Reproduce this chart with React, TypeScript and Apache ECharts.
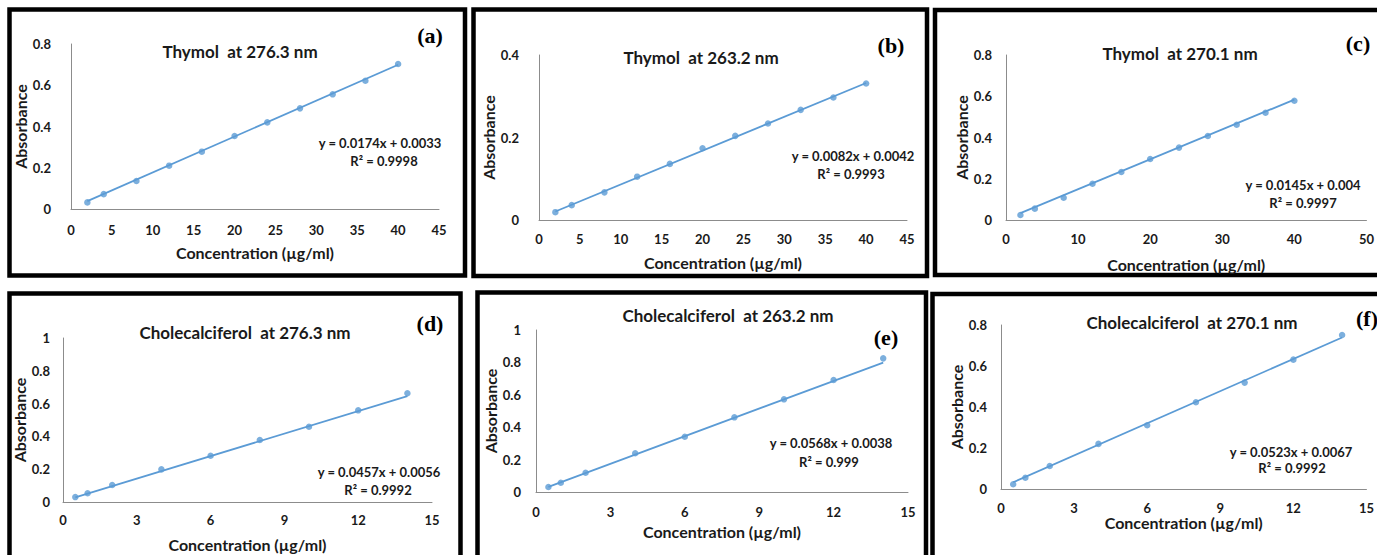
import React, { useEffect, useRef } from "react";
import * as echarts from "echarts";

// ---- data ----
const thymolConc = [2, 4, 8, 12, 16, 20, 24, 28, 32, 36, 40];
const cholConc = [0.5, 1, 2, 4, 6, 8, 10, 12, 14];

const absA = [0.032, 0.072, 0.136, 0.21, 0.278, 0.354, 0.42, 0.488, 0.556, 0.622, 0.703];
const absB = [0.019, 0.036, 0.067, 0.105, 0.136, 0.174, 0.204, 0.234, 0.267, 0.297, 0.331];
const absC = [0.024, 0.055, 0.108, 0.176, 0.233, 0.296, 0.351, 0.407, 0.462, 0.52, 0.578];
const absD = [0.03, 0.053, 0.104, 0.199, 0.282, 0.378, 0.459, 0.559, 0.663];
const absE = [0.031, 0.057, 0.119, 0.239, 0.341, 0.461, 0.572, 0.691, 0.825];
const absF = [0.023, 0.055, 0.112, 0.22, 0.311, 0.423, 0.519, 0.631, 0.751];

const slopes = [0.0174, 0.0082, 0.0145, 0.0457, 0.0568, 0.0523];
const intercepts = [0.0033, 0.0042, 0.004, 0.0056, 0.0038, 0.0067];
const rSquared = ["0.9998", "0.9993", "0.9997", "0.9992", "0.999", "0.9992"];

const titles = [
  "Thymol  at 276.3 nm",
  "Thymol  at 263.2 nm",
  "Thymol  at 270.1 nm",
  "Cholecalciferol  at 276.3 nm",
  "Cholecalciferol  at 263.2 nm",
  "Cholecalciferol  at 270.1 nm",
];
const letters = ["(a)", "(b)", "(c)", "(d)", "(e)", "(f)"];
const xMaxes = [45, 45, 50, 15, 15, 15];
const xIntervals = [5, 5, 10, 3, 3, 3];
const yMaxes = [0.8, 0.4, 0.8, 1, 1, 0.8];
const yInterval = 0.2;
const xAxisTitle = "Concentration (µg/ml)";
const yAxisTitle = "Absorbance";

const concs = [thymolConc, thymolConc, thymolConc, cholConc, cholConc, cholConc];
const absorbances = [absA, absB, absC, absD, absE, absF];

// ---- layout (pixels) ----
const layout = [
  { grid: [71, 44, 368, 165], border: [9.5, 9.5, 455.5, 266], title: [240, 51], letter: [430, 35], eq: [380, 143], r2: [384, 161], xGap: 35, yGap: 34, xMargin: 14, yMargin: 20 },
  { grid: [539, 55, 368, 165], border: [473.5, 9.5, 453.5, 266.5], title: [701, 57], letter: [891, 45], eq: [853, 156], r2: [851, 174], xGap: 34, yGap: 34, xMargin: 12, yMargin: 20 },
  { grid: [1006, 55, 365, 165], border: [935, 10, 500, 265], title: [1180, 53], letter: [1358, 43], eq: [1303, 185], r2: [1303, 203], xGap: 36, yGap: 35, xMargin: 12, yMargin: 14 },
  { grid: [63, 338, 369, 164], border: [9.5, 293.5, 451, 300], title: [245, 332], letter: [430, 323], eq: [379, 472], r2: [378, 490], xGap: 34, yGap: 29, xMargin: 11, yMargin: 13 },
  { grid: [536, 330, 372, 162], border: [477.5, 292.5, 448.5, 300], title: [728, 315], letter: [886, 337], eq: [831, 443], r2: [829, 462], xGap: 31, yGap: 34, xMargin: 13, yMargin: 15 },
  { grid: [1001, 325, 370, 164], border: [932.5, 294, 500, 300], title: [1192, 322], letter: [1367, 318], eq: [1291, 452], r2: [1292, 468], xGap: 24, yGap: 35, xMargin: 12, yMargin: 14 },
];

const BLUE = "#5B9BD5";
const AXIS = "#8C8C8C";
const FONT = "Lato, 'Open Sans', sans-serif";
const INK = "#1a1a1a";

export default function App() {
  const ref = useRef<HTMLDivElement>(null);

  useEffect(() => {
    if (!ref.current) return;
    const chart = echarts.init(ref.current, undefined, { renderer: "svg" });

    const grids: any[] = [];
    const xAxes: any[] = [];
    const yAxes: any[] = [];
    const series: any[] = [];
    const graphics: any[] = [];

    layout.forEach((L, i) => {
      const [gl, gt, gw, gh] = L.grid;
      grids.push({ left: gl, top: gt, width: gw, height: gh, containLabel: false });
      xAxes.push({
        type: "value",
        gridIndex: i,
        min: 0,
        max: xMaxes[i],
        interval: xIntervals[i],
        splitLine: { show: false },
        axisTick: { show: false },
        axisLine: { show: true, onZero: false, lineStyle: { color: AXIS, width: 1 } },
        axisLabel: { color: INK, fontSize: 13, fontWeight: "bold", fontFamily: FONT, margin: L.xMargin },
        name: xAxisTitle,
        nameLocation: "middle",
        nameGap: L.xGap,
        nameTextStyle: { color: INK, fontSize: 16, fontWeight: "bold", fontFamily: FONT },
      });
      yAxes.push({
        type: "value",
        gridIndex: i,
        min: 0,
        max: yMaxes[i],
        interval: yInterval,
        splitLine: { show: false },
        axisTick: { show: false },
        axisLine: { show: true, onZero: false, lineStyle: { color: AXIS, width: 1 } },
        axisLabel: {
          color: INK,
          fontSize: 13,
          fontWeight: "bold",
          fontFamily: FONT,
          margin: L.yMargin,
          formatter: (v: number) => String(+v.toFixed(1)),
        },
        name: yAxisTitle,
        nameLocation: "middle",
        nameGap: L.yGap,
        nameTextStyle: { color: INK, fontSize: 16, fontWeight: "bold", fontFamily: FONT },
      });

      const xs = concs[i];
      const ys = absorbances[i];
      const x0 = xs[0];
      const x1 = xs[xs.length - 1];
      series.push({
        type: "line",
        xAxisIndex: i,
        yAxisIndex: i,
        data: [
          [x0, slopes[i] * x0 + intercepts[i]],
          [x1, slopes[i] * x1 + intercepts[i]],
        ],
        showSymbol: false,
        symbol: "none",
        lineStyle: { color: BLUE, width: 1.8 },
        silent: true,
        z: 2,
      });
      series.push({
        type: "scatter",
        xAxisIndex: i,
        yAxisIndex: i,
        data: xs.map((x, k) => [x, ys[k]]),
        symbol: "circle",
        symbolSize: 6.5,
        itemStyle: { color: BLUE },
        z: 3,
      });

      const [bx, by, bw, bh] = L.border;
      graphics.push({
        type: "rect",
        shape: { x: bx, y: by, width: bw, height: bh },
        style: { fill: "none", stroke: "#000", lineWidth: 4.5 },
        silent: true,
      });
      graphics.push({
        type: "text",
        x: L.title[0],
        y: L.title[1],
        style: {
          text: titles[i],
          fill: INK,
          font: `bold 17px ${FONT}`,
          textAlign: "center",
          textVerticalAlign: "middle",
        },
      });
      graphics.push({
        type: "text",
        x: L.letter[0],
        y: L.letter[1],
        style: {
          text: letters[i],
          fill: "#000",
          font: "bold 22px 'Liberation Serif', 'Times New Roman', serif",
          textAlign: "center",
          textVerticalAlign: "middle",
        },
      });
      graphics.push({
        type: "text",
        x: L.eq[0],
        y: L.eq[1],
        style: {
          text: `y = ${slopes[i]}x + ${intercepts[i]}`,
          fill: INK,
          font: `bold 13px ${FONT}`,
          textAlign: "center",
          textVerticalAlign: "middle",
        },
      });
      graphics.push({
        type: "text",
        x: L.r2[0],
        y: L.r2[1],
        style: {
          text: `R² = ${rSquared[i]}`,
          fill: INK,
          font: `bold 13px ${FONT}`,
          textAlign: "center",
          textVerticalAlign: "middle",
        },
      });
    });

    chart.setOption({
      animation: false,
      backgroundColor: "#ffffff",
      grid: grids,
      xAxis: xAxes,
      yAxis: yAxes,
      series,
      graphic: graphics,
    });

    return () => chart.dispose();
  }, []);

  return (
    <div
      ref={ref}
      style={{ position: "absolute", left: 0, top: 0, width: 1377, height: 555, overflow: "hidden", background: "#fff" }}
    />
  );
}
